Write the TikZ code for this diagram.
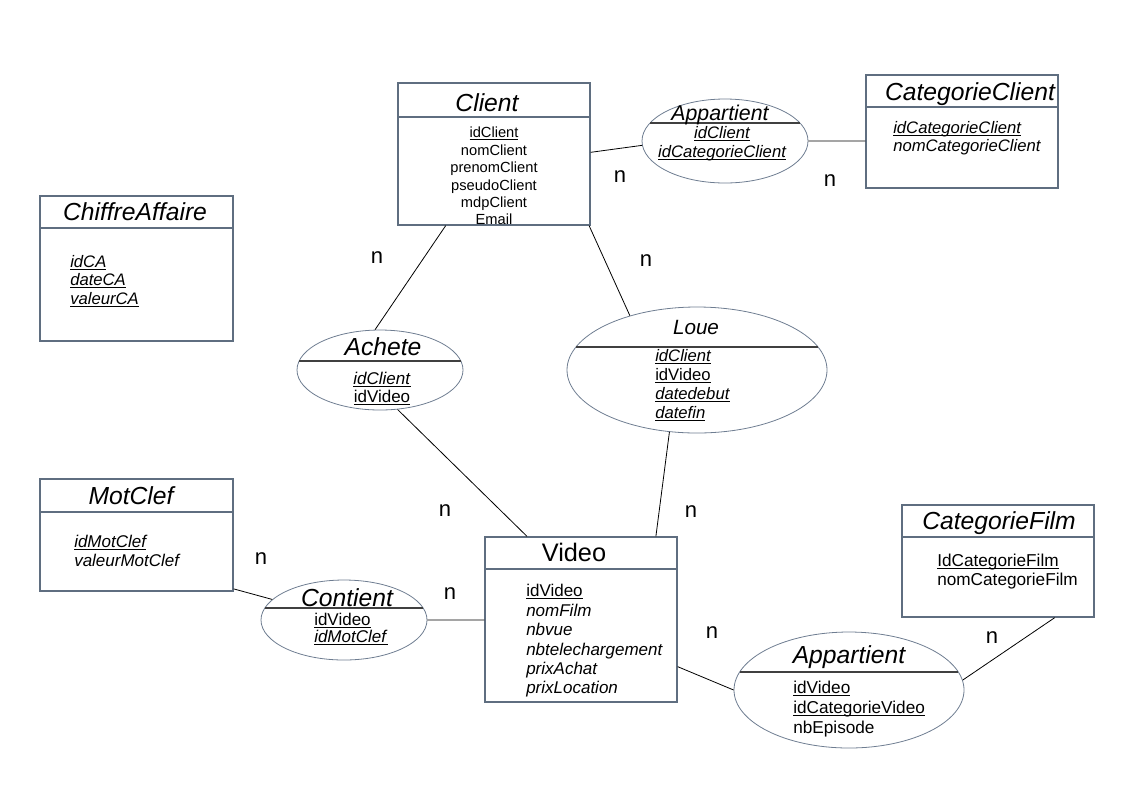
\documentclass[tikz,border=0pt]{standalone}
\usepackage{fontspec}
\setmainfont{Liberation Sans}
\usepackage{tikz}
\usetikzlibrary{shapes.geometric}

\definecolor{bordbox}{RGB}{95,110,128}
\definecolor{bordell}{RGB}{110,125,145}

% souligne a hauteur fixe (cle)
\newcommand{\cle}[1]{\leavevmode\setbox0\hbox{#1}\rlap{\rule[-1.7pt]{\wd0}{0.6pt}}\box0}

\begin{document}
\begin{tikzpicture}
[x=0.75pt,y=-0.75pt]
\tikzset{
	entite/.style = {rectangle, draw=bordbox, line width=1pt, inner sep=0},
	assoc/.style = {ellipse, draw=bordell, line width=0.6pt, inner sep=0},
	sep/.style = {draw=bordbox, line width=1.2pt},
	sepa/.style = {draw=black!75, line width=0.8pt},
	titre/.style = {anchor=base, inner sep=0, font=\fontsize{18.5}{20}\selectfont\itshape},
	attr/.style = {inner sep=0, font=\fontsize{12.75}{14.6}\selectfont},
	card/.style = {inner sep=0, font=\fontsize{16.5}{18}\selectfont},
	lien/.style = {draw, line width=0.6pt}
}
\useasboundingbox (0,0) rectangle (1123,794);

% entites
\node(client) [entite, minimum width=144pt, minimum height=106.5pt] at (494,154) {};
\node(catC) [entite, minimum width=144pt, minimum height=84.75pt] at (962,131.5) {};
\node(ca) [entite, minimum width=144.75pt, minimum height=108.75pt] at (136.5,268.5) {};
\node(motclef) [entite, minimum width=144.75pt, minimum height=84pt] at (136.5,535) {};
\node(video) [entite, minimum width=144pt, minimum height=123.75pt] at (581,619.5) {};
\node(catF) [entite, minimum width=144pt, minimum height=84pt] at (998,561) {};

\draw[sep] (client.west |- 0,117) -- (client.east |- 0,117);
\draw[sep] (catC.west |- 0,107) -- (catC.east |- 0,107);
\draw[sep] (ca.west |- 0,228) -- (ca.east |- 0,228);
\draw[sep] (motclef.west |- 0,512) -- (motclef.east |- 0,512);
\draw[sep] (video.west |- 0,569) -- (video.east |- 0,569);
\draw[sep] (catF.west |- 0,537) -- (catF.east |- 0,537);

\node(tClient) [titre] at (487,111) {Client};
\node(tCatC) [titre] at (970,100) {CategorieClient};
\node(tCa) [titre] at (135,220) {ChiffreAffaire};
\node(tMot) [titre] at (131,504) {MotClef};
\node(tVideo) [titre, font=\fontsize{19}{20}\selectfont] at (574,561) {Video};
\node(tCatF) [titre] at (999,529) {CategorieFilm};

\node(aClient) [attr, anchor=north, align=center, font=\fontsize{11}{13.05}\selectfont] at (494,127)
	{\cle{idClient}\\nomClient\\prenomClient\\pseudoClient\\mdpClient\\Email};
\node(aCatC) [attr, anchor=north west, align=left, font=\fontsize{12.5}{13.5}\selectfont\itshape] at (893,121)
	{\cle{idCategorieClient}\\nomCategorieClient};
\node(aCa) [attr, anchor=north west, align=left, font=\fontsize{12.5}{13.9}\selectfont\itshape] at (70,255)
	{\cle{idCA}\\\cle{dateCA}\\\cle{valeurCA}};
\node(aMot) [attr, anchor=north west, align=left, font=\fontsize{12.75}{14.25}\selectfont\itshape] at (74,535)
	{\cle{idMotClef}\\valeurMotClef};
\node(aVideo) [attr, anchor=north west, align=left] at (526,584)
	{\cle{idVideo}\\\textit{nomFilm}\\\textit{nbvue}\\\textit{nbtelechargement}\\\textit{prixAchat}\\\textit{prixLocation}};
\node(aCatF) [attr, anchor=north west, align=left, font=\fontsize{12.9}{14.25}\selectfont] at (937,554)
	{\cle{IdCategorieFilm}\\nomCategorieFilm};

% associations
\node(appC) [assoc, minimum width=124.5pt, minimum height=63pt] at (725,141) {};
\node(achete) [assoc, minimum width=124.5pt, minimum height=60pt] at (380,370) {};
\node(loue) [assoc, minimum width=195pt, minimum height=94.5pt] at (697,370) {};
\node(contient) [assoc, minimum width=124.5pt, minimum height=60pt] at (344,620) {};
\node(appV) [assoc, minimum width=172.5pt, minimum height=87pt] at (849,690) {};

\draw[sepa] (650,123) -- (800,123);
\draw[sepa] (299,361) -- (461,361);
\draw[sepa] (576,347) -- (818,347);
\draw[sepa] (265,608) -- (423,608);
\draw[sepa] (740,672) -- (958,672);

\node(tAppC) [titre, font=\fontsize{16}{18}\selectfont\itshape] at (720,120) {Appartient};
\node(tAchete) [titre] at (383,355) {Achete};
\node(tLoue) [titre, font=\fontsize{15.5}{17}\selectfont\itshape] at (696,334) {Loue};
\node(tContient) [titre] at (347,606) {Contient};
\node(tAppV) [titre] at (849,663) {Appartient};

\node(aAppC) [attr, anchor=north, align=center, font=\fontsize{12.5}{14.25}\selectfont\itshape] at (722,126)
	{\cle{idClient}\\\cle{idCategorieClient}};
\node(aAchete) [attr, anchor=north, align=center, font=\fontsize{12.75}{13.5}\selectfont] at (382,372)
	{\cle{\textit{idClient}}\\\cle{idVideo}};
\node(aLoue) [attr, anchor=north west, align=left, font=\fontsize{12.5}{14.25}\selectfont] at (655,349)
	{\cle{\textit{idClient}}\\\cle{idVideo}\\\cle{\textit{datedebut}}\\\cle{\textit{datefin}}};
\node(aContient) [attr, anchor=north west, align=left, font=\fontsize{12.75}{12.75}\selectfont] at (314,613)
	{\cle{idVideo}\\\cle{\textit{idMotClef}}};
\node(aAppV) [attr, anchor=north west, align=left, font=\fontsize{12.9}{15}\selectfont] at (793,681)
	{\cle{idVideo}\\\cle{idCategorieVideo}\\nbEpisode};

% liens
\path[lien]
	(client.1) -- (appC.183)
	(appC.east) -- (appC.east -| catC.west)
	(client.-124) -- (achete.97)
	(client.-37) -- (loue.141)
	(achete.-66) -- (video.123)
	(loue.-114) -- (video.48)
	(motclef.-29) -- (contient.164)
	(contient.east) -- (contient.east -| video.west)
	(video.-26) -- (appV.west)
	(appV.5) -- (catF.-45)
	;

% cardinalites
\node(n1) [card] at (620,177) {n};
\node(n2) [card] at (830,181) {n};
\node(n3) [card] at (377,258) {n};
\node(n4) [card] at (646,261) {n};
\node(n5) [card] at (445,511) {n};
\node(n6) [card] at (691,512) {n};
\node(n7) [card] at (261,559) {n};
\node(n8) [card] at (450,594) {n};
\node(n9) [card] at (712,633) {n};
\node(n10) [card] at (992,638) {n};

\end{tikzpicture}
\end{document}
